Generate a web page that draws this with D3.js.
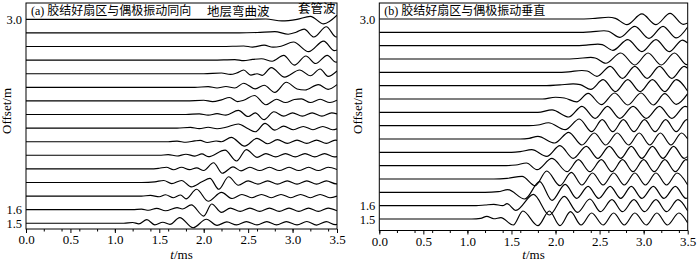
<!DOCTYPE html>
<html>
<head>
<meta charset="utf-8">
<script src="https://cdn.jsdelivr.net/npm/d3@7"></script>
<style>
  html, body { margin: 0; padding: 0; background: #fff; }
  svg { display: block; font-family: "Liberation Serif", "Times New Roman", "Noto Sans CJK SC", serif; }
</style>
</head>
<body>
<div id="chart"></div>
<script>
// offsets of the 16 receivers (m), bottom to top
const OFFSETS = [1.5, 1.6, 1.7, 1.8, 1.9, 2.0, 2.1, 2.2, 2.3, 2.4, 2.5, 2.6, 2.7, 2.8, 2.9, 3.0];
const T_TICKS = [0, 0.5, 1.0, 1.5, 2.0, 2.5, 3.0, 3.5];
const OFFSET_TICKS = [1.5, 1.6, 3.0];
const TITLES = ['(a) 胶结好扇区与偶极振动同向', '(b) 胶结好扇区与偶极振动垂直'];
const WAVE_NAMES = ['地层弯曲波', '套管波'];

// waveforms, [t (ms), amplitude in trace spacings]
const TRACES_A = [
  [[0,0],[1.1,0],[1.2,0.06],[1.27,-0.04],[1.36,0.27],[1.45,-0.12],[1.54,0.08],[1.62,-0.08],[1.73,0.42],[1.88,-0.33],[2.03,0.3],[2.15,-0.15],[2.26,0.1],[2.37,-0.12],[2.48,0.12],[2.6,-0.12],[2.71,0.12],[2.82,-0.12],[2.93,0.12],[3.05,-0.12],[3.16,0.13],[3.27,-0.13],[3.38,0.12],[3.48,-0.1],[3.5,-0.08]],
  [[0,0],[1.2,0],[1.3,0.04],[1.38,-0.04],[1.47,0.1],[1.57,-0.08],[1.7,0.15],[1.76,0.05],[1.86,0.35],[2.0,-0.47],[2.09,0.42],[2.2,-0.2],[2.3,0.12],[2.41,-0.12],[2.52,0.12],[2.63,-0.12],[2.74,0.12],[2.85,-0.12],[2.96,0.12],[3.07,-0.12],[3.18,0.12],[3.29,-0.12],[3.4,0.12],[3.5,-0.08]],
  [[0,0],[1.3,0],[1.4,0.05],[1.5,-0.05],[1.57,0.1],[1.66,-0.12],[1.74,0.08],[1.8,-0.2],[1.92,0.5],[2.05,-0.38],[2.2,0.27],[2.32,-0.18],[2.43,0.12],[2.54,-0.12],[2.65,0.12],[2.76,-0.12],[2.87,0.12],[2.98,-0.12],[3.09,0.12],[3.2,-0.12],[3.31,0.12],[3.42,-0.12],[3.5,0]],
  [[0,0],[1.3,0],[1.45,0.05],[1.55,0.15],[1.64,-0.08],[1.75,0.15],[1.86,-0.32],[1.98,0.05],[2.07,0.3],[2.17,-0.5],[2.28,0.42],[2.39,-0.2],[2.5,0.12],[2.61,-0.12],[2.72,0.12],[2.83,-0.12],[2.94,0.12],[3.05,-0.12],[3.16,0.12],[3.27,-0.12],[3.38,0.12],[3.49,-0.1],[3.5,-0.1]],
  [[0,0],[1.4,0],[1.5,0.05],[1.58,0.12],[1.66,-0.06],[1.75,0.12],[1.84,-0.05],[1.92,0.08],[2.0,-0.12],[2.11,0.45],[2.21,-0.32],[2.33,0.15],[2.42,-0.15],[2.52,0.12],[2.63,-0.12],[2.74,0.12],[2.85,-0.12],[2.96,0.12],[3.07,-0.12],[3.18,0.12],[3.29,-0.12],[3.4,0.12],[3.5,-0.05]],
  [[0,0],[1.5,0],[1.6,0.05],[1.7,-0.05],[1.8,0.08],[1.9,-0.06],[1.98,0.1],[2.05,-0.1],[2.24,0.38],[2.37,-0.42],[2.48,0.42],[2.6,-0.15],[2.7,0.12],[2.81,-0.12],[2.92,0.12],[3.03,-0.12],[3.14,0.12],[3.25,-0.12],[3.36,0.12],[3.47,-0.12],[3.5,-0.1]],
  [[0,0],[1.6,0],[1.7,0.04],[1.8,-0.04],[1.9,0.06],[1.96,0.1],[2.04,-0.06],[2.14,0.05],[2.2,0.0],[2.31,0.32],[2.46,-0.33],[2.6,0.25],[2.72,-0.15],[2.83,0.15],[2.94,-0.12],[3.05,0.12],[3.16,-0.12],[3.27,0.12],[3.38,-0.12],[3.48,0.12],[3.5,0.1]],
  [[0,0],[1.7,0],[1.85,0.05],[1.95,-0.04],[2.05,0.06],[2.15,-0.05],[2.25,0.06],[2.39,0.3],[2.5,-0.05],[2.58,-0.27],[2.69,0.35],[2.8,-0.15],[2.9,0.15],[3.01,-0.12],[3.12,0.12],[3.23,-0.12],[3.34,0.12],[3.45,-0.12],[3.5,-0.05]],
  [[0,0],[1.8,0],[1.95,0.05],[2.05,-0.05],[2.15,0.06],[2.25,-0.05],[2.39,0.3],[2.5,-0.15],[2.58,0.12],[2.68,-0.38],[2.79,0.2],[2.9,-0.12],[3.0,0.12],[3.11,-0.12],[3.22,0.12],[3.33,-0.12],[3.44,0.12],[3.5,0.05]],
  [[0,0],[1.8,0],[2.0,0.05],[2.1,-0.05],[2.2,0.08],[2.29,0.25],[2.38,-0.05],[2.45,0.05],[2.57,0.4],[2.7,-0.28],[2.82,0.12],[2.92,-0.12],[3.02,0.1],[3.1,0.15],[3.2,-0.12],[3.31,0.12],[3.42,-0.12],[3.5,0.05]],
  [[0,0],[1.9,0],[2.05,0.05],[2.15,-0.05],[2.25,0.06],[2.35,-0.05],[2.45,0.3],[2.58,-0.12],[2.68,0.15],[2.8,-0.37],[2.93,0.37],[3.05,-0.12],[3.14,-0.2],[3.29,0.2],[3.4,-0.15],[3.5,0.2]],
  [[0,0],[2.0,0],[2.2,0.05],[2.3,-0.05],[2.37,0.05],[2.45,0.27],[2.53,-0.1],[2.6,0.0],[2.66,-0.12],[2.76,0.45],[2.91,-0.25],[3.08,0.27],[3.2,-0.15],[3.31,0.35],[3.4,-0.2],[3.5,0.2]],
  [[0,0],[2.1,0],[2.35,0.04],[2.45,-0.04],[2.55,0.05],[2.65,0.1],[2.77,-0.08],[2.9,0.35],[3.02,-0.37],[3.15,0.3],[3.26,-0.25],[3.39,0.35],[3.49,-0.15],[3.5,-0.14]],
  [[0,0],[2.2,0],[2.45,0.04],[2.55,-0.04],[2.68,0.1],[2.78,-0.05],[2.87,0.02],[3.01,0.33],[3.18,-0.38],[3.35,0.4],[3.47,-0.3],[3.5,-0.25]],
  [[0,0],[2.4,0],[2.6,0.03],[2.8,0.1],[2.95,-0.1],[3.04,0.05],[3.13,0.28],[3.24,-0.3],[3.38,0.45],[3.49,-0.3],[3.5,-0.28]],
  [[0,0],[2.5,0],[2.7,0.02],[2.88,-0.12],[3.05,0.0],[3.2,0.22],[3.35,-0.33],[3.5,0.3]]
];

const TRACES_B = [
  [[0,0],[1.05,0],[1.15,0.05],[1.22,0.2],[1.3,0.02],[1.38,0.1],[1.52,-0.45],[1.63,0.6],[1.8,-0.5],[1.93,0.6],[2.05,-0.5],[2.17,0.55],[2.29,-0.45],[2.41,0.45],[2.54,-0.45],[2.66,0.45],[2.78,-0.45],[2.9,0.45],[3.03,-0.45],[3.15,0.45],[3.27,-0.45],[3.4,0.45],[3.5,-0.3]],
  [[0,0],[1.1,0],[1.2,0.05],[1.3,0.1],[1.4,0.0],[1.45,0.15],[1.55,-0.35],[1.75,0.85],[1.93,-0.7],[2.1,0.7],[2.25,-0.5],[2.39,0.5],[2.51,-0.45],[2.64,0.45],[2.76,-0.45],[2.89,0.45],[3.01,-0.45],[3.14,0.45],[3.26,-0.45],[3.39,0.45],[3.5,-0.4]],
  [[0,0],[1.2,0],[1.35,0.05],[1.46,0.2],[1.65,-0.5],[1.82,0.8],[1.96,-0.6],[2.11,0.6],[2.24,-0.45],[2.37,0.45],[2.49,-0.45],[2.62,0.45],[2.74,-0.45],[2.86,0.45],[2.98,-0.45],[3.11,0.45],[3.23,-0.45],[3.36,0.45],[3.48,-0.45],[3.5,-0.4]],
  [[0,0],[1.3,0],[1.45,0.05],[1.62,0.2],[1.77,-0.5],[1.9,0.6],[2.05,-0.5],[2.18,0.5],[2.3,-0.45],[2.42,0.45],[2.54,-0.45],[2.66,0.45],[2.78,-0.45],[2.9,0.45],[3.02,-0.45],[3.14,0.45],[3.26,-0.45],[3.38,0.45],[3.5,-0.45]],
  [[0,0],[1.4,0],[1.55,0.05],[1.67,0.2],[1.79,-0.3],[1.96,0.55],[2.13,-0.45],[2.26,0.45],[2.39,-0.45],[2.52,0.45],[2.64,-0.45],[2.76,0.45],[2.88,-0.45],[3.0,0.45],[3.12,-0.45],[3.24,0.45],[3.36,-0.45],[3.48,0.45],[3.5,0.42]],
  [[0,0],[1.5,0],[1.6,0.05],[1.73,0.2],[1.9,-0.3],[2.05,0.5],[2.2,-0.45],[2.35,0.45],[2.48,-0.45],[2.61,0.45],[2.74,-0.45],[2.86,0.45],[2.98,-0.45],[3.1,0.45],[3.22,-0.45],[3.34,0.45],[3.46,-0.45],[3.5,-0.3]],
  [[0,0],[1.6,0],[1.7,0.05],[1.8,0.2],[1.99,-0.3],[2.15,0.5],[2.3,-0.45],[2.44,0.45],[2.57,-0.45],[2.7,0.45],[2.83,-0.45],[2.95,0.45],[3.07,-0.45],[3.19,0.45],[3.31,-0.45],[3.43,0.45],[3.5,0.0]],
  [[0,0],[1.7,0],[1.8,0.05],[1.92,0.22],[2.11,-0.3],[2.27,0.5],[2.41,-0.45],[2.53,0.45],[2.65,-0.45],[2.77,0.45],[2.89,-0.45],[3.01,0.45],[3.13,-0.45],[3.25,0.45],[3.37,-0.45],[3.49,0.45],[3.5,0.44]],
  [[0,0],[1.8,0],[1.96,0.18],[2.15,-0.35],[2.3,0.45],[2.45,-0.45],[2.59,0.45],[2.73,-0.45],[2.88,0.45],[3.03,-0.45],[3.18,0.45],[3.32,-0.45],[3.47,0.45],[3.5,0.4]],
  [[0,0],[1.85,0],[2.0,0.13],[2.1,0.08],[2.24,-0.22],[2.37,0.42],[2.52,-0.42],[2.67,0.45],[2.82,-0.45],[2.97,0.45],[3.11,-0.45],[3.24,0.4],[3.37,-0.4],[3.5,0.4]],
  [[0,0],[1.9,0],[2.05,0.06],[2.2,0.13],[2.28,0.08],[2.4,-0.28],[2.54,0.45],[2.68,-0.45],[2.82,0.45],[2.96,-0.45],[3.1,0.45],[3.24,-0.45],[3.37,0.45],[3.5,-0.42]],
  [[0,0],[2.0,0],[2.15,0.04],[2.3,0.14],[2.36,0.1],[2.47,-0.3],[2.62,0.45],[2.76,-0.45],[2.9,0.45],[3.04,-0.45],[3.18,0.45],[3.32,-0.45],[3.46,0.45],[3.5,0.3]],
  [[0,0],[2.1,0],[2.25,0.04],[2.4,0.12],[2.45,0.08],[2.57,-0.32],[2.74,0.45],[2.9,-0.45],[3.05,0.45],[3.2,-0.45],[3.35,0.45],[3.49,-0.42],[3.5,-0.4]],
  [[0,0],[2.2,0],[2.35,0.04],[2.48,0.12],[2.53,0.08],[2.65,-0.35],[2.82,0.45],[2.98,-0.45],[3.14,0.45],[3.29,-0.45],[3.44,0.42],[3.5,0.2]],
  [[0,0],[2.25,0],[2.4,0.04],[2.55,0.12],[2.6,0.08],[2.73,-0.38],[2.9,0.45],[3.06,-0.45],[3.22,0.45],[3.37,-0.42],[3.5,0.4]],
  [[0,0],[2.3,0],[2.45,0.05],[2.6,0.13],[2.68,0.05],[2.81,-0.42],[2.98,0.38],[3.14,-0.42],[3.3,0.42],[3.45,-0.4],[3.5,-0.3]]
];

const W = 700, H = 264;
const TRACE_GAP = 0.1; // one trace spacing in offset units

// per-panel frame geometry
const PANELS = [
  { traces: TRACES_A, title: TITLES[0], left: 26, right: 337, top: 3, bottom: 229, yDom: [1.458, 3.12], ylabX: 11,
    notes: [{ text: WAVE_NAMES[0], x: 207, y: 16 }, { text: WAVE_NAMES[1], x: 298, y: 13 }] },
  { traces: TRACES_B, title: TITLES[1], left: 379.3, right: 687.7, top: 3, bottom: 230.5, yDom: [1.414, 3.12], ylabX: 362,
    notes: [] }
];

const svg = d3.select('#chart').append('svg').attr('width', W).attr('height', H);

PANELS.forEach((p, pi) => {
  const x = d3.scaleLinear().domain([0, 3.5]).range([p.left, p.right]);
  const y = d3.scaleLinear().domain(p.yDom).range([p.bottom, p.top]);
  const g = svg.append('g');

  // minor + major ticks on the time axis
  g.append('g').attr('transform', `translate(0,${p.bottom})`)
    .call(d3.axisBottom(x).ticks(14).tickSize(2.5).tickFormat(''))
    .call(s => s.select('.domain').remove());
  const xa = g.append('g').attr('transform', `translate(0,${p.bottom})`)
    .call(d3.axisBottom(x).tickValues(T_TICKS).tickSize(4).tickPadding(2).tickFormat(d3.format('.1f')));
  xa.select('.domain').remove();
  xa.selectAll('text').attr('font-size', 13).attr('fill', '#000')
    .attr('font-family', '"Liberation Serif", serif');

  const ya = g.append('g').attr('transform', `translate(${p.left},0)`)
    .call(d3.axisLeft(y).tickValues(OFFSET_TICKS).tickSize(0).tickPadding(4).tickFormat(d3.format('.1f')));
  ya.select('.domain').remove();
  ya.selectAll('text').attr('font-size', 12.5).attr('fill', '#000')
    .attr('font-family', '"Liberation Serif", serif');

  // waveforms
  const clipId = 'clip' + pi;
  svg.append('clipPath').attr('id', clipId).append('rect')
    .attr('x', p.left).attr('y', p.top).attr('width', p.right - p.left).attr('height', p.bottom - p.top);
  p.traces.forEach((tr, i) => {
    const off = OFFSETS[i];
    const line = d3.line()
      .x(d => x(d[0]))
      .y(d => y(off + d[1] * TRACE_GAP))
      .curve(d3.curveMonotoneX);
    g.append('path').datum(tr).attr('d', line)
      .attr('fill', 'none').attr('stroke', '#000').attr('stroke-width', 1.15)
      .attr('clip-path', `url(#${clipId})`);
  });

  // frame
  g.append('rect').attr('x', p.left).attr('y', p.top)
    .attr('width', p.right - p.left).attr('height', p.bottom - p.top)
    .attr('fill', 'none').attr('stroke', '#000').attr('stroke-width', 1);

  // title and wave names
  g.append('text').attr('x', p.left + 5).attr('y', p.top + 12)
    .attr('font-size', 12).attr('fill', '#000').text(p.title);
  p.notes.forEach(n => {
    g.append('text').attr('x', n.x).attr('y', n.y).attr('font-size', 12.5).attr('fill', '#000').text(n.text);
  });

  // axis titles
  const xl = g.append('text').attr('x', (p.left + p.right) / 2).attr('y', 259)
    .attr('text-anchor', 'middle').attr('font-size', 13).attr('fill', '#000');
  xl.append('tspan').attr('font-style', 'italic').text('t');
  xl.append('tspan').text('/ms');
  const ymid = 111;
  g.append('text').attr('transform', `translate(${p.ylabX},${ymid}) rotate(-90)`)
    .attr('text-anchor', 'middle').attr('font-size', 13).attr('fill', '#000').text('Offset/m');
});
</script>
</body>
</html>
